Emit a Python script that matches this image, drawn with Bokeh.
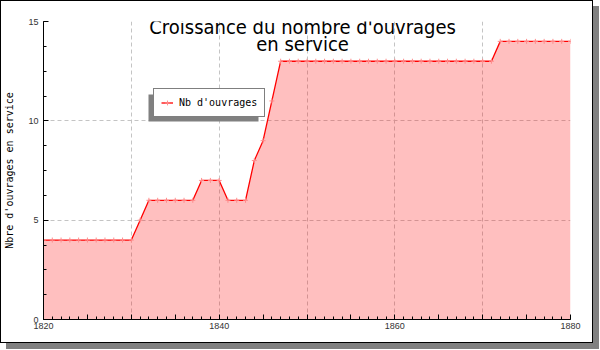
from bokeh.plotting import figure
from bokeh.models import Range1d, FixedTicker, Label, Legend, LegendItem, BoxAnnotation
from bokeh.embed import file_html
from bokeh.resources import INLINE

# ---- data ----
years = [1820, 1821, 1822, 1823, 1824, 1825, 1826, 1827, 1828, 1829,
         1830, 1831, 1832, 1833, 1834, 1835, 1836, 1837, 1838, 1839,
         1840, 1841, 1842, 1843, 1844, 1845, 1846, 1847, 1848, 1849,
         1850, 1851, 1852, 1853, 1854, 1855, 1856, 1857, 1858, 1859,
         1860, 1861, 1862, 1863, 1864, 1865, 1866, 1867, 1868, 1869,
         1870, 1871, 1872, 1873, 1874, 1875, 1876, 1877, 1878, 1879,
         1880]
counts = [4, 4, 4, 4, 4, 4, 4, 4, 4, 4,
          4, 5, 6, 6, 6, 6, 6, 6, 7, 7,
          7, 6, 6, 6, 8, 9, 11, 13, 13, 13,
          13, 13, 13, 13, 13, 13, 13, 13, 13, 13,
          13, 13, 13, 13, 13, 13, 13, 13, 13, 13,
          13, 13, 14, 14, 14, 14, 14, 14, 14, 14,
          14]

title_line1 = "Croissance du nombre d'ouvrages"
title_line2 = "en service"
y_axis_label = "Nbre d'ouvrages en service"
series_label = "Nb d'ouvrages"

x_major_ticks = [1820, 1825, 1830, 1835, 1840, 1845, 1850, 1855, 1860, 1865, 1870, 1875, 1880]
x_labeled_ticks = [1820, 1840, 1860, 1880]
x_grid_ticks = [1830, 1840, 1850, 1860, 1870, 1880]
y_major_ticks = [0, 5, 10, 15]
y_minor_ticks = [0, 1.25, 2.5, 3.75, 5, 6.25, 7.5, 8.75, 10, 11.25, 12.5, 13.75, 15]
y_grid_ticks = [5, 10, 15]

p = figure(width=593, height=343,
           x_range=Range1d(1820, 1880), y_range=Range1d(0, 15),
           output_backend="svg", toolbar_location=None,
           min_border_left=41, min_border_right=24,
           min_border_top=20, min_border_bottom=25,
           outline_line_color=None,
           background_fill_color="white", border_fill_color="white",
           styles={"border": "1px solid black",
                   "box-shadow": "6px 6px 0px #808080"})

# grids
p.xgrid.ticker = FixedTicker(ticks=x_grid_ticks)
p.ygrid.ticker = FixedTicker(ticks=y_grid_ticks)
for g in (p.xgrid, p.ygrid):
    g.grid_line_color = "#c4c4c4"
    g.grid_line_dash = "4 3"
    g.grid_line_width = 1

# axes
xa = p.xaxis[0]
xa.ticker = FixedTicker(ticks=x_major_ticks, minor_ticks=years)
xa.major_label_overrides = {t: ("" if t not in x_labeled_ticks else str(t)) for t in x_major_ticks}
ya = p.yaxis[0]
ya.ticker = FixedTicker(ticks=y_major_ticks, minor_ticks=y_minor_ticks)
for ax in (xa, ya):
    ax.axis_line_color = "black"
    ax.axis_line_width = 1
    ax.major_tick_in = 5
    ax.major_tick_out = 0
    ax.minor_tick_in = 3
    ax.minor_tick_out = 0
    ax.major_tick_line_color = "black"
    ax.minor_tick_line_color = "black"
    ax.major_label_text_font = "Liberation Sans"
    ax.major_label_text_font_size = "9px"
    ax.major_label_text_color = "#333333"
xa.major_label_standoff = 3
ya.major_label_standoff = 5
ya.axis_label = y_axis_label
ya.axis_label_text_font = "DejaVu Sans Mono"
ya.axis_label_text_font_size = "10px"
ya.axis_label_text_font_style = "normal"
ya.axis_label_text_color = "black"
ya.axis_label_standoff = 10

# series
area = p.varea(x=years, y1=0, y2=counts, fill_color="#ff0000", fill_alpha=0.25)
line_r = p.line(years, counts, line_color="#ff0000", line_width=1.3)
pts_r = p.scatter(years, counts, marker="cross", size=5,
                  line_color="#ff8c8c", line_width=1)

# legend shadow + legend
shadow = BoxAnnotation(left=105, right=215, bottom=198, top=225,
                       left_units="screen", right_units="screen",
                       bottom_units="screen", top_units="screen",
                       fill_color="#808080", fill_alpha=1, line_color=None,
                       level="annotation")
p.add_layout(shadow)

legend = Legend(items=[LegendItem(label=series_label, renderers=[line_r, pts_r])],
                location=(110, 202), margin=0, padding=7, spacing=0,
                glyph_width=12, glyph_height=13, label_height=13,
                label_standoff=6, label_text_font="DejaVu Sans Mono",
                label_text_font_size="10px", label_text_color="black",
                border_line_color="black", border_line_width=1,
                background_fill_color="white", background_fill_alpha=1)
p.add_layout(legend, "center")

# title (two lines, drawn inside the chart like the original)
t1 = Label(x=1849.5, y=14.70, text=title_line1, text_align="center",
           text_baseline="alphabetic", text_font="DejaVu Sans Condensed",
           text_font_size="20px", text_color="black")
t2 = Label(x=1849.5, y=13.89, text=title_line2, text_align="center",
           text_baseline="alphabetic", text_font="DejaVu Sans Condensed",
           text_font_size="20px", text_color="black")
p.add_layout(t1)
p.add_layout(t2)

open("out.html", "w").write(file_html(p, INLINE))
